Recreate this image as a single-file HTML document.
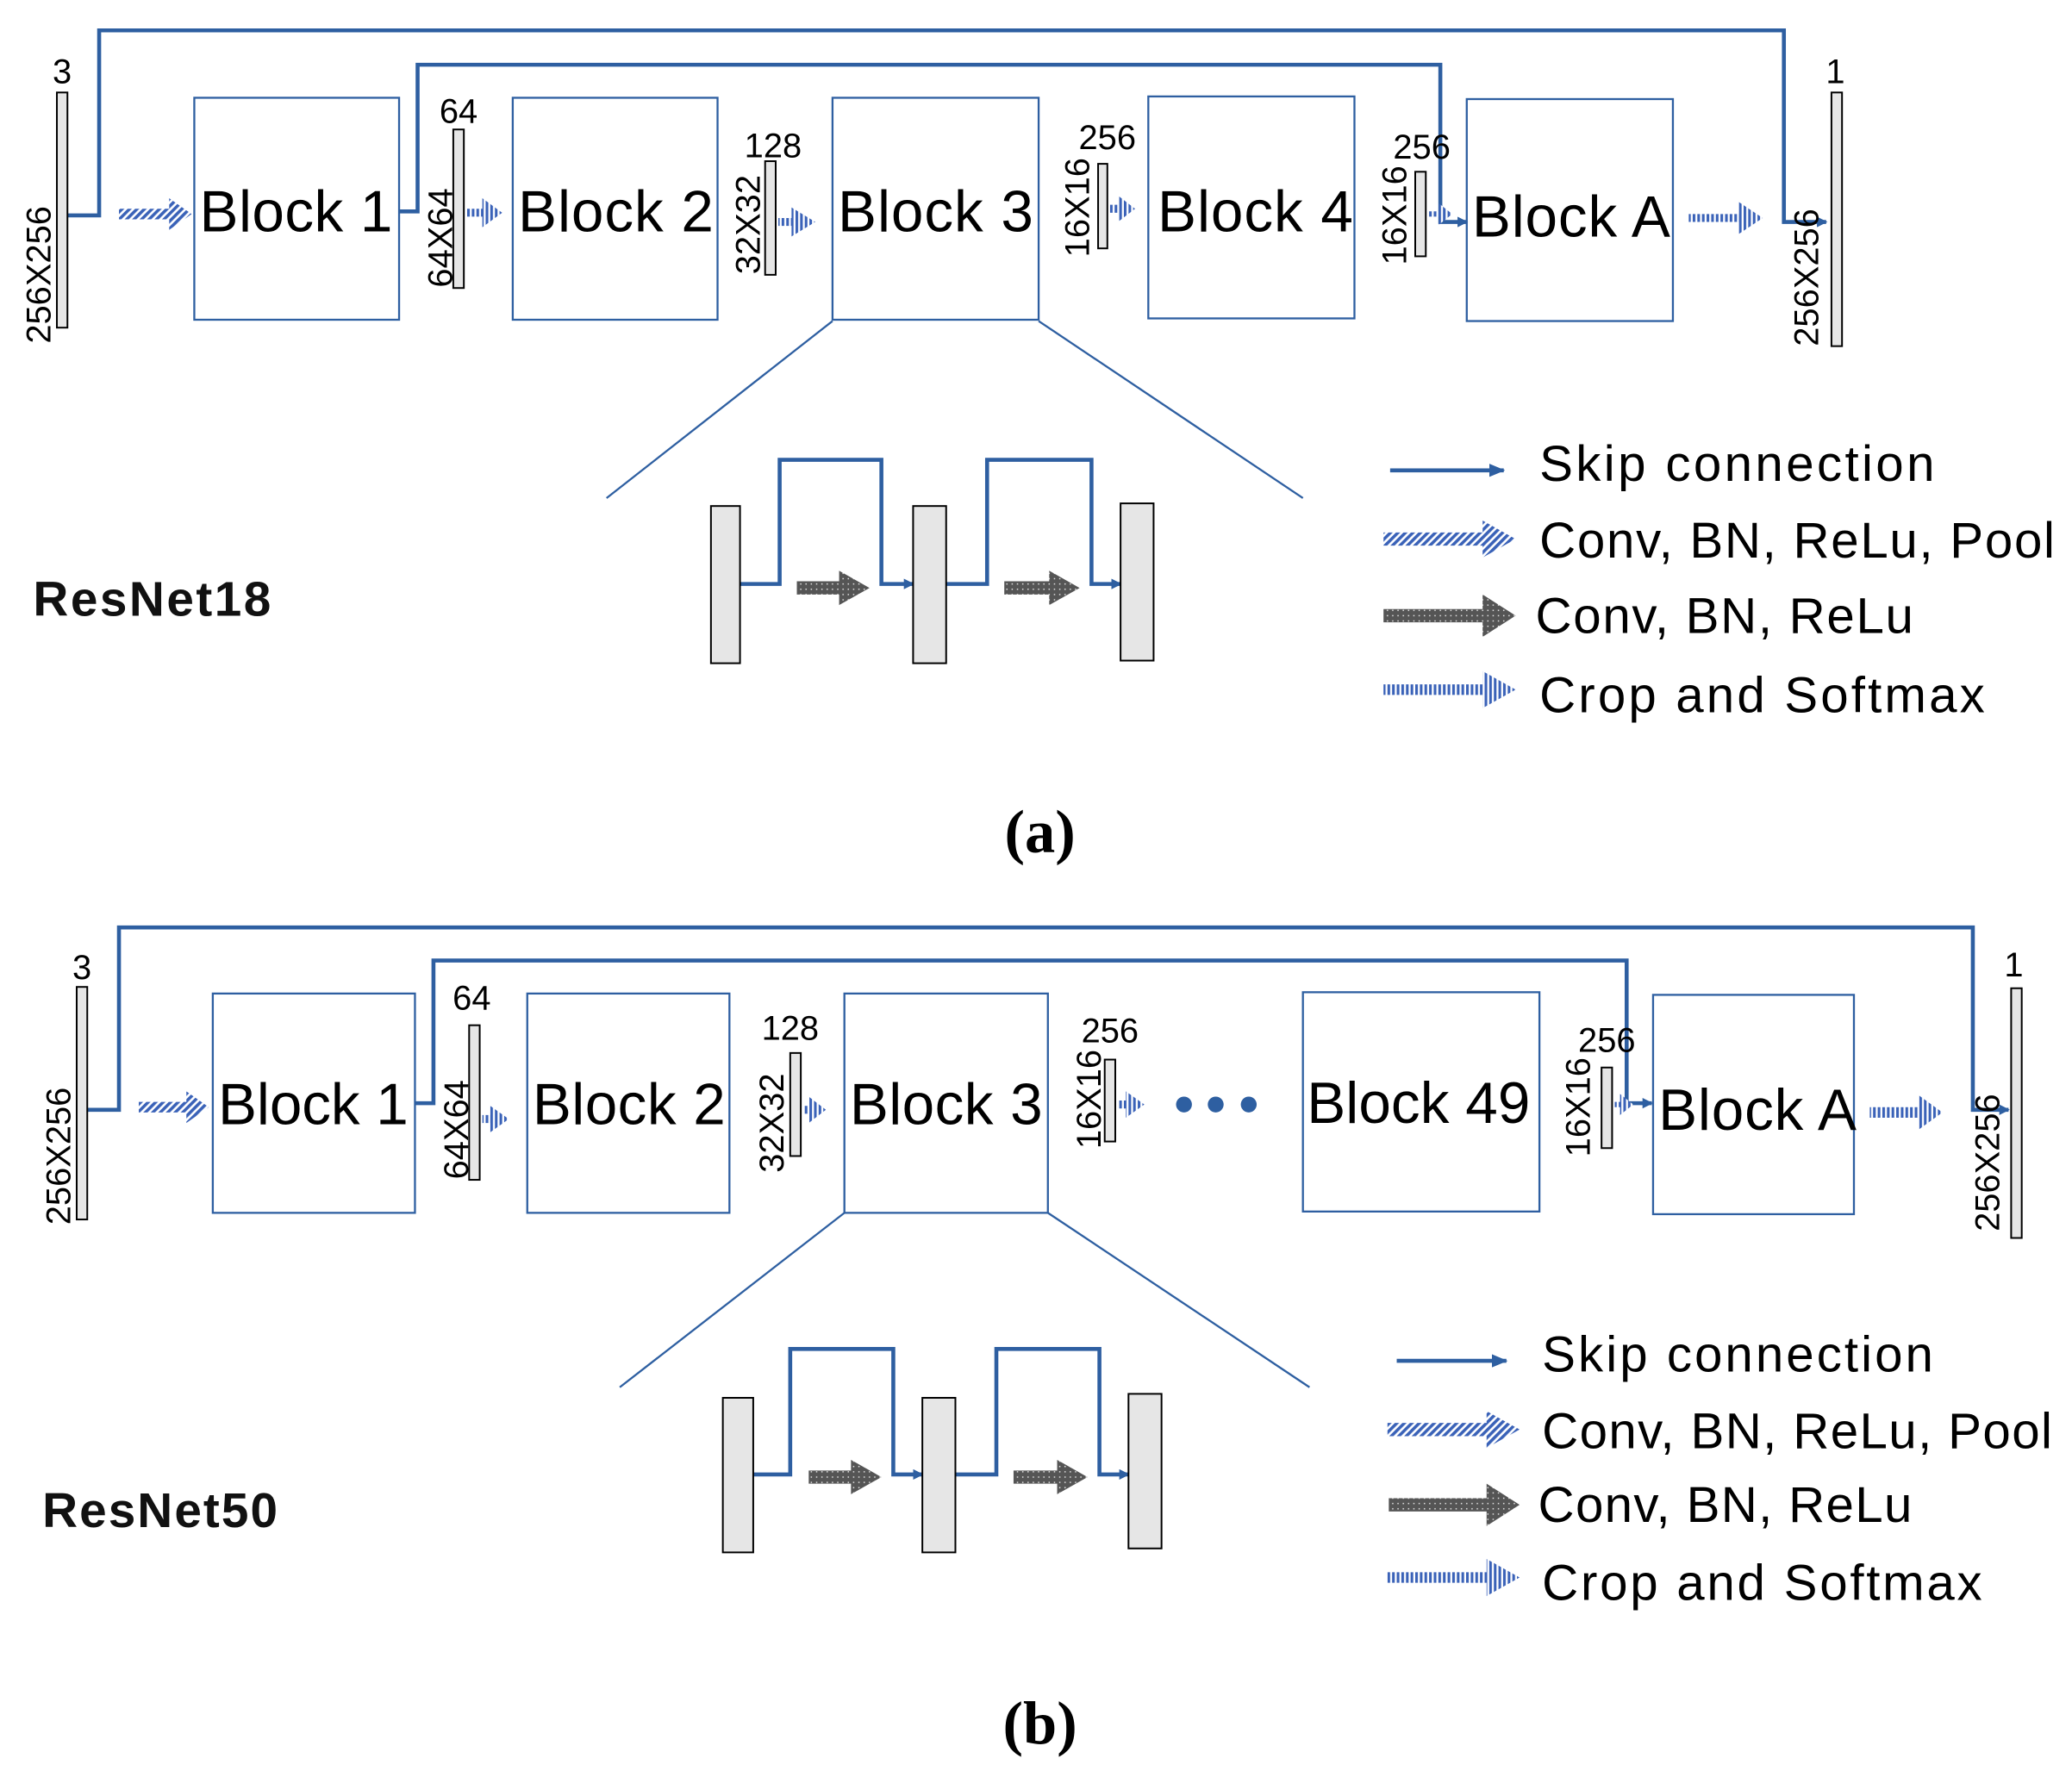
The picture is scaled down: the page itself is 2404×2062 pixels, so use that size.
<!DOCTYPE html>
<html><head><meta charset="utf-8"><style>html,body{margin:0;padding:0;background:#fff}svg{display:block}</style></head>
<body>
<svg width="2404" height="2062" viewBox="0 0 1568 1345" xmlns="http://www.w3.org/2000/svg" font-family="Liberation Sans, DejaVu Sans, sans-serif">
<defs>
<pattern id="hat" width="4" height="4" patternUnits="userSpaceOnUse" patternTransform="rotate(45)"><rect width="4" height="4" fill="#fff"/><rect width="2.3" height="4" fill="#3a62b8"/></pattern>
<pattern id="vs" width="3.5" height="4" patternUnits="userSpaceOnUse"><rect width="3.5" height="4" fill="#fff"/><rect width="2" height="4" fill="#3a62b8"/></pattern>
<pattern id="dot" width="4" height="4" patternUnits="userSpaceOnUse"><rect width="4" height="4" fill="#555"/><rect x="1.5" y="1.5" width="1" height="1" fill="#ddd"/></pattern>
<marker id="ah" markerWidth="8" markerHeight="8" refX="7" refY="4" orient="auto" markerUnits="userSpaceOnUse"><path d="M0,0 L8,4 L0,8z" fill="#2e5fa1"/></marker>
<marker id="ahL" markerWidth="12" markerHeight="10" refX="11" refY="5" orient="auto" markerUnits="userSpaceOnUse"><path d="M0,0 L12,5 L0,10z" fill="#2e5fa1"/></marker>
</defs>
<style>
.sk{fill:none;stroke:#2e5fa1;stroke-width:3}
.bx{fill:#fff;stroke:#2e5fa1;stroke-width:1.5}
.br{fill:#e6e6e6;stroke:#000;stroke-width:1.3}
.bt{font-size:44px;fill:#000}
.lb{font-size:26px;fill:#000}
.lg{font-size:38px;fill:#000}
.zl{stroke:#2e5fa1;stroke-width:1.5}
</style>

<!-- ===== (a) ===== -->
<rect class="bx" x="147" y="74" width="155" height="168"/>
<rect class="bx" x="388" y="74" width="155" height="168"/>
<rect class="bx" x="630" y="74" width="156" height="168"/>
<rect class="bx" x="869" y="73" width="156" height="168"/>
<rect class="bx" x="1110" y="75" width="156" height="168"/>
<text class="bt" x="151" y="175" textLength="146">Block 1</text>
<text class="bt" x="392" y="175" textLength="148">Block 2</text>
<text class="bt" x="634" y="175" textLength="148">Block 3</text>
<text class="bt" x="876" y="175" textLength="148">Block 4</text>
<text class="bt" x="1114" y="179" textLength="150">Block A</text>

<polyline class="sk" points="51,163 75,163 75,23 1350,23 1350,168 1382,168" marker-end="url(#ah)"/>
<polyline class="sk" points="302,160 316,160 316,49 1090,49 1090,168 1110,168" marker-end="url(#ah)"/>

<rect class="br" x="43" y="70" width="8" height="178"/>
<text class="lb" x="47" y="63" text-anchor="middle">3</text>
<text class="lb" transform="translate(38,208) rotate(-90)" text-anchor="middle">256X256</text>
<rect class="br" x="1386" y="70" width="8" height="192"/>
<text class="lb" x="1389" y="63" text-anchor="middle">1</text>
<text class="lb" transform="translate(1376,210) rotate(-90)" text-anchor="middle">256X256</text>

<rect class="br" x="343" y="98" width="8" height="120"/>
<text class="lb" x="347" y="93" text-anchor="middle">64</text>
<text class="lb" transform="translate(342,180) rotate(-90)" text-anchor="middle">64X64</text>
<rect class="br" x="579" y="122" width="8" height="86"/>
<text class="lb" x="585" y="119" text-anchor="middle">128</text>
<text class="lb" transform="translate(575,170) rotate(-90)" text-anchor="middle">32X32</text>
<rect class="br" x="831" y="124" width="7" height="64"/>
<text class="lb" x="838" y="113" text-anchor="middle">256</text>
<text class="lb" transform="translate(824,157) rotate(-90)" text-anchor="middle">16X16</text>
<rect class="br" x="1071" y="130" width="8" height="64"/>
<text class="lb" x="1076" y="120" text-anchor="middle">256</text>
<text class="lb" transform="translate(1064,163) rotate(-90)" text-anchor="middle">16X16</text>

<path d="M90,158 h38 v-8 l17,12 l-17,12 v-8 h-38z" fill="url(#hat)"/>
<path d="M353,158 h12 v-8 l15,11 l-15,11 v-8 h-12z" fill="url(#vs)"/>
<path d="M589,165 h10 v-8 l18,11 l-18,11 v-8 h-10z" fill="url(#vs)"/>
<path d="M840,155 h6 v-7 l13,10 l-13,10 v-7 h-6z" fill="url(#vs)"/>
<path d="M1081,160 h8 v-6 l10,8 l-10,8 v-6 h-8z" fill="url(#vs)"/>
<path d="M1278,162 h38 v-9 l18,12 l-18,12 v-9 h-38z" fill="url(#vs)"/>

<line class="zl" x1="630" y1="243" x2="459" y2="377"/>
<line class="zl" x1="786" y1="243" x2="986" y2="377"/>

<polyline class="sk" points="560,442 590,442 590,348 667,348 667,442 691,442" marker-end="url(#ah)"/>
<polyline class="sk" points="716,442 747,442 747,348 826,348 826,442 848,442" marker-end="url(#ah)"/>
<rect class="br" x="538" y="383" width="22" height="119"/>
<rect class="br" x="691" y="383" width="25" height="119"/>
<rect class="br" x="848" y="381" width="25" height="119"/>
<path d="M603,440 h32 v-8 l23,13 l-23,13 v-8 h-32z" fill="url(#dot)"/>
<path d="M760,440 h34 v-8 l23,13 l-23,13 v-8 h-34z" fill="url(#dot)"/>

<text x="25" y="466" font-size="37" font-weight="bold" fill="#111" textLength="180">ResNet18</text>

<line x1="1052" y1="356" x2="1138" y2="356" class="sk" marker-end="url(#ahL)"/>
<path d="M1047,403 h75 v-9 l25,14 l-25,14 v-9 h-75z" fill="url(#hat)"/>
<path d="M1047,461 h75 v-11 l25,16 l-25,16 v-11 h-75z" fill="url(#dot)"/>
<path d="M1047,518 h75 v-10 l25,14 l-25,14 v-10 h-75z" fill="url(#vs)"/>
<text class="lg" x="1165" y="364" textLength="299">Skip connection</text>
<text class="lg" x="1165" y="422" textLength="390">Conv, BN, ReLu, Pool</text>
<text class="lg" x="1162" y="479" textLength="286">Conv, BN, ReLu</text>
<text class="lg" x="1165" y="539" textLength="337">Crop and Softmax</text>

<text x="787" y="645" font-family="Liberation Serif, serif" font-size="46" font-weight="bold" text-anchor="middle">(a)</text>

<!-- ===== (b) ===== -->
<rect class="bx" x="161" y="752" width="153" height="166"/>
<rect class="bx" x="399" y="752" width="153" height="166"/>
<rect class="bx" x="639" y="752" width="154" height="166"/>
<rect class="bx" x="986" y="751" width="179" height="166"/>
<rect class="bx" x="1251" y="753" width="152" height="166"/>
<text class="bt" x="165" y="851" textLength="144">Block 1</text>
<text class="bt" x="403" y="851" textLength="146">Block 2</text>
<text class="bt" x="643" y="851" textLength="146">Block 3</text>
<text class="bt" x="989" y="850" textLength="169">Block 49</text>
<text class="bt" x="1255" y="855" textLength="150">Block A</text>

<polyline class="sk" points="66,840 90,840 90,702 1493,702 1493,840 1520,840" marker-end="url(#ah)"/>
<polyline class="sk" points="314,835 328,835 328,727 1231,727 1231,835 1250,835" marker-end="url(#ah)"/>

<rect class="br" x="58" y="747" width="8" height="176"/>
<text class="lb" x="62" y="741" text-anchor="middle">3</text>
<text class="lb" transform="translate(53,875) rotate(-90)" text-anchor="middle">256X256</text>
<rect class="br" x="1522" y="748" width="8" height="189"/>
<text class="lb" x="1524" y="739" text-anchor="middle">1</text>
<text class="lb" transform="translate(1513,880) rotate(-90)" text-anchor="middle">256X256</text>

<rect class="br" x="355" y="776" width="8" height="117"/>
<text class="lb" x="357" y="764" text-anchor="middle">64</text>
<text class="lb" transform="translate(354,855) rotate(-90)" text-anchor="middle">64X64</text>
<rect class="br" x="598" y="797" width="8" height="78"/>
<text class="lb" x="598" y="787" text-anchor="middle">128</text>
<text class="lb" transform="translate(593,850) rotate(-90)" text-anchor="middle">32X32</text>
<rect class="br" x="836" y="802" width="8" height="62"/>
<text class="lb" x="840" y="789" text-anchor="middle">256</text>
<text class="lb" transform="translate(833,832) rotate(-90)" text-anchor="middle">16X16</text>
<rect class="br" x="1212" y="808" width="8" height="61"/>
<text class="lb" x="1216" y="796" text-anchor="middle">256</text>
<text class="lb" transform="translate(1203,838) rotate(-90)" text-anchor="middle">16X16</text>

<circle cx="896" cy="836" r="6" fill="#2e5fa1"/>
<circle cx="920" cy="836" r="6" fill="#2e5fa1"/>
<circle cx="945" cy="836" r="6" fill="#2e5fa1"/>

<path d="M105,834 h36 v-8 l17,12 l-17,12 v-8 h-36z" fill="url(#hat)"/>
<path d="M365,844 h6 v-7 l14,10 l-14,10 v-7 h-6z" fill="url(#vs)"/>
<path d="M608,837 h4 v-7 l13,10 l-13,10 v-7 h-4z" fill="url(#vs)"/>
<path d="M846,833 h6 v-7 l14,10 l-14,10 v-7 h-6z" fill="url(#vs)"/>
<path d="M1222,834 h4 v-6 l10,8 l-10,8 v-6 h-4z" fill="url(#vs)"/>
<path d="M1415,838 h37 v-9 l18,13 l-18,13 v-9 h-37z" fill="url(#vs)"/>

<line class="zl" x1="639" y1="918" x2="469" y2="1050"/>
<line class="zl" x1="793" y1="918" x2="991" y2="1050"/>

<polyline class="sk" points="570,1116 598,1116 598,1021 676,1021 676,1116 698,1116" marker-end="url(#ah)"/>
<polyline class="sk" points="723,1116 754,1116 754,1021 832,1021 832,1116 854,1116" marker-end="url(#ah)"/>
<rect class="br" x="547" y="1058" width="23" height="117"/>
<rect class="br" x="698" y="1058" width="25" height="117"/>
<rect class="br" x="854" y="1055" width="25" height="117"/>
<path d="M612,1113 h32 v-8 l23,13 l-23,13 v-8 h-32z" fill="url(#dot)"/>
<path d="M767,1113 h33 v-8 l23,13 l-23,13 v-8 h-33z" fill="url(#dot)"/>

<text x="32" y="1156" font-size="37" font-weight="bold" fill="#111" textLength="178">ResNet50</text>

<line x1="1057" y1="1030" x2="1140" y2="1030" class="sk" marker-end="url(#ahL)"/>
<path d="M1050,1077 h75 v-9 l25,14 l-25,14 v-9 h-75z" fill="url(#hat)"/>
<path d="M1051,1134 h74 v-11 l25,16 l-25,16 v-11 h-74z" fill="url(#dot)"/>
<path d="M1050,1190 h75 v-10 l25,14 l-25,14 v-10 h-75z" fill="url(#vs)"/>
<text class="lg" x="1167" y="1038" textLength="296">Skip connection</text>
<text class="lg" x="1167" y="1096" textLength="386">Conv, BN, ReLu, Pool</text>
<text class="lg" x="1164" y="1152" textLength="283">Conv, BN, ReLu</text>
<text class="lg" x="1167" y="1211" textLength="333">Crop and Softmax</text>

<text x="787" y="1320" font-family="Liberation Serif, serif" font-size="46" font-weight="bold" text-anchor="middle">(b)</text>
</svg>
</body></html>
